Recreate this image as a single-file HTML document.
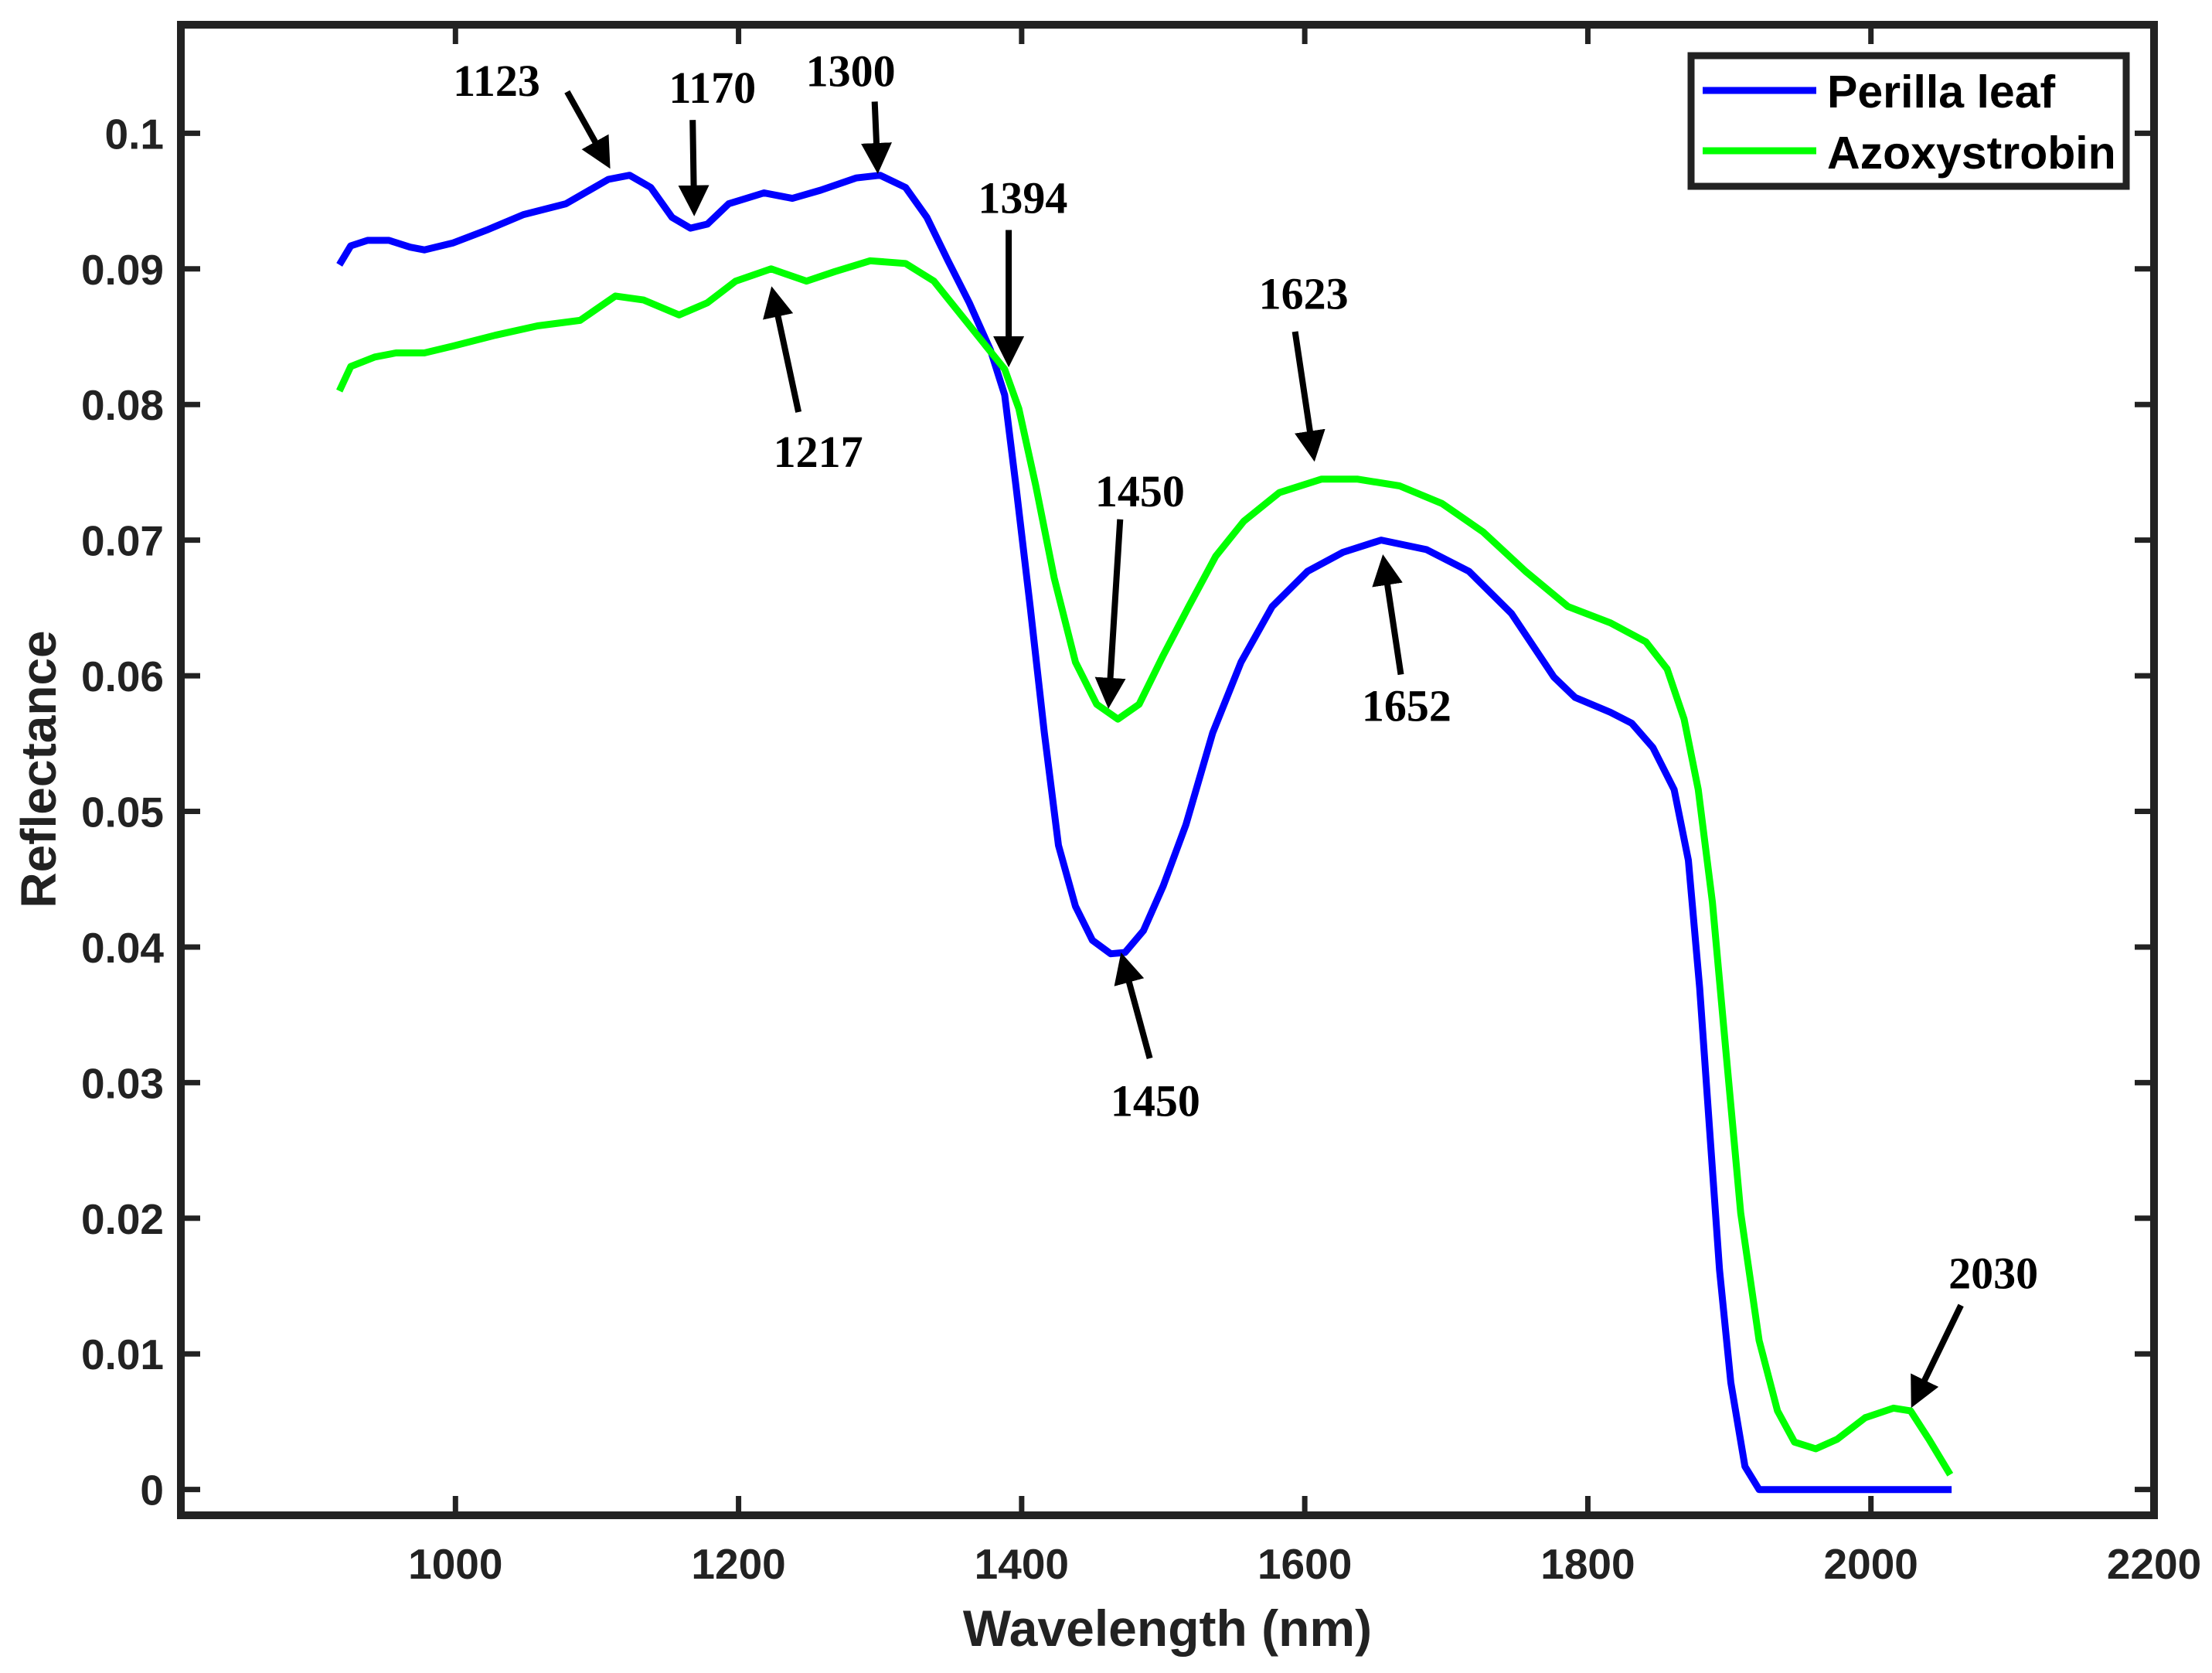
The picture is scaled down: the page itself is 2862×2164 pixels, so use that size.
<!DOCTYPE html>
<html><head><meta charset="utf-8"><style>
html,body{margin:0;padding:0;background:#fff}
svg{display:block}
.tk{font-family:"Liberation Sans",Arial,sans-serif;font-weight:bold;font-size:55px;fill:#222}
.an{font-family:"Liberation Serif",serif;font-weight:bold;font-size:58px;fill:#000}
</style></head><body>
<svg id="chart" width="2862" height="2164" viewBox="0 0 2862 2164" xmlns="http://www.w3.org/2000/svg">
<defs><marker id="ah" markerWidth="5" markerHeight="5" refX="3.8" refY="2.5" orient="auto" markerUnits="strokeWidth"><path d="M0,0 L5,2.5 L0,5 Z" fill="#000"/></marker></defs>
<g id="series"></g>
<g id="annot"></g>
<g id="frame"></g>
</svg>
<script>
const xTicks=[1000,1200,1400,1600,1800,2000,2200];
const yTicks=[0,0.01,0.02,0.03,0.04,0.05,0.06,0.07,0.08,0.09,0.1];
const yTickLabels=["0","0.01","0.02","0.03","0.04","0.05","0.06","0.07","0.08","0.09","0.1"];
const perillaWl=[918,926,938,953,968,978,998,1023,1048,1078,1108,1123,1138,1153,1166,1178,1193,1218,1238,1258,1283,1300,1318,1333,1348,1363,1378,1388,1396,1406,1416,1426,1438,1450,1463,1473,1486,1500,1516,1535,1555,1577,1602,1627,1654,1686,1716,1746,1776,1791,1816,1831,1846,1861,1871,1879,1886,1893,1901,1911,1921,2057];
const perillaVal=[0.0903,0.0917,0.0921,0.0921,0.0916,0.0914,0.0919,0.0929,0.094,0.0948,0.0966,0.0969,0.096,0.0938,0.093,0.0933,0.0948,0.0956,0.0952,0.0958,0.0967,0.0969,0.096,0.0938,0.0906,0.0875,0.084,0.0807,0.074,0.0651,0.0558,0.0475,0.043,0.0405,0.0395,0.0396,0.0412,0.0445,0.049,0.0558,0.061,0.0651,0.0677,0.0691,0.07,0.0693,0.0677,0.0646,0.0599,0.0584,0.0573,0.0565,0.0547,0.0516,0.0464,0.037,0.0266,0.0162,0.0079,0.0017,0,0];
const azoxWl=[918,926,943,958,978,998,1028,1058,1088,1113,1133,1158,1178,1198,1223,1248,1268,1293,1318,1338,1358,1378,1388,1398,1410,1423,1438,1453,1468,1483,1500,1518,1537,1557,1582,1612,1637,1667,1697,1726,1756,1786,1816,1841,1856,1868,1878,1888,1898,1908,1921,1934,1946,1961,1976,1996,2016,2028,2041,2056];
const azoxVal=[0.081,0.0828,0.0835,0.0838,0.0838,0.0843,0.0851,0.0858,0.0862,0.088,0.0877,0.0866,0.0875,0.0891,0.09,0.0891,0.0898,0.0906,0.0904,0.0891,0.0865,0.0839,0.0826,0.0797,0.074,0.0672,0.061,0.0579,0.0568,0.0579,0.0615,0.0651,0.0688,0.0714,0.0735,0.0745,0.0745,0.074,0.0727,0.0706,0.0677,0.0651,0.0639,0.0625,0.0605,0.0568,0.0516,0.0433,0.0318,0.0204,0.011,0.0058,0.0035,0.003,0.0037,0.0053,0.006,0.0058,0.0037,0.0011];

const NS="http://www.w3.org/2000/svg";
const L=234,R=2787,T=32,B=1960;
const X0=806,X1=2200,Y0=-0.0019,Y1=0.108;
const x=v=>L+(v-X0)/(X1-X0)*(R-L);
const y=v=>B-(v-Y0)/(Y1-Y0)*(B-T);
function mk(tag,attrs,parent){const e=document.createElementNS(NS,tag);for(const k in attrs)e.setAttribute(k,attrs[k]);parent.appendChild(e);return e;}
const frame=document.getElementById('frame'),series=document.getElementById('series'),annot=document.getElementById('annot');

function line(wl,val,color,name){
  const p=mk('polyline',{points:wl.map((w,i)=>x(w).toFixed(1)+','+y(val[i]).toFixed(1)).join(' '),fill:'none',stroke:color,'stroke-width':9,'stroke-linejoin':'round'},series);
  
  
}
line(perillaWl,perillaVal,'#0000ff','perilla-leaf-line');
line(azoxWl,azoxVal,'#00ff00','azoxystrobin-line');

const box=mk('rect',{x:L,y:T,width:R-L,height:B-T,fill:'none',stroke:'#222','stroke-width':10},frame);


xTicks.forEach(t=>{
  const xx=x(t);
  mk('line',{x1:xx,x2:xx,y1:B,y2:B-25,stroke:'#222','stroke-width':7},frame);
  mk('line',{x1:xx,x2:xx,y1:T,y2:T+25,stroke:'#222','stroke-width':7},frame);
  const tx=mk('text',{x:xx,y:2042,'text-anchor':'middle',class:'tk'},frame);
  tx.textContent=t;
  
  
});
yTicks.forEach((t,i)=>{
  const yy=y(t);
  mk('line',{x1:L,x2:L+25,y1:yy,y2:yy,stroke:'#222','stroke-width':7},frame);
  mk('line',{x1:R,x2:R-25,y1:yy,y2:yy,stroke:'#222','stroke-width':7},frame);
  const tx=mk('text',{x:L-22,y:yy+20,'text-anchor':'end',class:'tk'},frame);
  tx.textContent=yTickLabels[i];
  
  
});
const xt=mk('text',{x:(L+R)/2,y:2129,'text-anchor':'middle',class:'tk'},frame);
xt.textContent='Wavelength (nm)';xt.setAttribute('style','font-size:66px');


const yt=mk('text',{x:0,y:0,'text-anchor':'middle',class:'tk',transform:'translate(72,995) rotate(-90)'},frame);
yt.textContent='Reflectance';yt.setAttribute('style','font-size:64px');



const lg=mk('g',{},frame);


mk('rect',{x:2188,y:72,width:563,height:169,fill:'#fff',stroke:'#222','stroke-width':9},lg);
mk('line',{x1:2203,x2:2350,y1:117,y2:117,stroke:'#0000ff','stroke-width':9},lg);
mk('line',{x1:2203,x2:2350,y1:195,y2:195,stroke:'#00ff00','stroke-width':9},lg);
const l1=mk('text',{x:2364,y:139,class:'tk'},lg);l1.textContent='Perilla leaf';l1.setAttribute('style','font-size:59px;fill:#000');


const l2=mk('text',{x:2364,y:218,class:'tk'},lg);l2.textContent='Azoxystrobin';l2.setAttribute('style','font-size:59px;fill:#000');



const S=1.8253;
const ann=[["1123",352,57,402,65,430,115],["1170",505,62,491,85,492,148],["1300",603,50,620,72,622,118],["1394",725,140,715,163,715,255],["1217",580,320,566,292,548,208],["1623",924,208,918,235,931,322],["1450",808,348,794,368,786,497],["1652",997,500,993,478,981,398],["1450",819,780,815,750,796,680],["2030",1413,902,1390,925,1357,993]];
ann.forEach(a=>{
  const t=mk('text',{x:a[1]*S,y:a[2]*S+20,'text-anchor':'middle',class:'an'},annot);
  t.textContent=a[0];
  
  
  const ar=mk('line',{x1:a[3]*S,y1:a[4]*S,x2:a[5]*S,y2:a[6]*S,stroke:'#000','stroke-width':8,'marker-end':'url(#ah)'},annot);
  
  
});
</script>
</body></html>
